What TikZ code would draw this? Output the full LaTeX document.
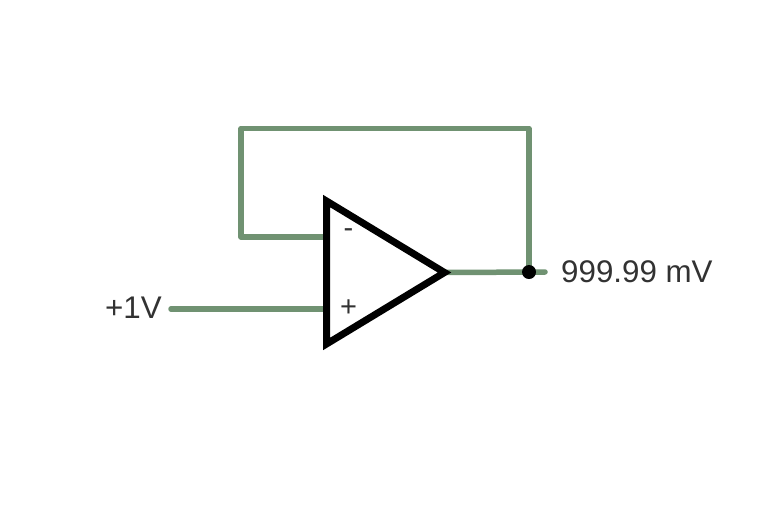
\documentclass[tikz,border=0pt]{standalone}
\usepackage{fontspec}
\setmainfont{Liberation Sans}
\definecolor{wire}{RGB}{112,146,114}
\definecolor{txt}{RGB}{50,50,50}
\tikzset{
 wirep/.style={draw=wire,line width=5.5pt,line cap=round,line join=round},
 lab/.style={text=txt,font=\fontsize{31.3}{34}\selectfont,inner sep=0pt,anchor=base west},
 sign/.style={text=txt,font=\fontsize{29}{32}\selectfont,inner sep=0pt}
}
\begin{document}
\begin{tikzpicture}[x=1pt,y=-1pt]
\useasboundingbox (0,0) rectangle (776,515);
\fill[white] (0,0) rectangle (776,515);
\coordinate (inL) at (171,309);
\coordinate (inR) at (326,309);
\coordinate (fbA) at (326,237);
\coordinate (fbB) at (241,237);
\coordinate (fbC) at (241,128.5);
\coordinate (fbD) at (529,128.5);
\coordinate (junc) at (529,272);
\coordinate (outR) at (545,272);
\coordinate (tip) at (444.5,272.5);
\draw[wirep] (inL) -- (inR);
\draw[wirep] (fbA) -- (fbB) -- (fbC) -- (fbD) -- (junc);
\draw[wirep] (tip) -- (outR);
\draw[black,line width=7pt,miter limit=10,fill=white] (326.5,201) -- (tip) -- (326.5,344) -- cycle;
\fill[black] (junc) circle (7);
\node[sign] (minus) at (348.5,233) {-};
\node[sign] (plus) at (348.5,308) {+};
\node[lab] (vin) at (105,318) {+1V};
\node[lab] (vout) at (561,282) {999.99 mV};
\end{tikzpicture}
\end{document}
